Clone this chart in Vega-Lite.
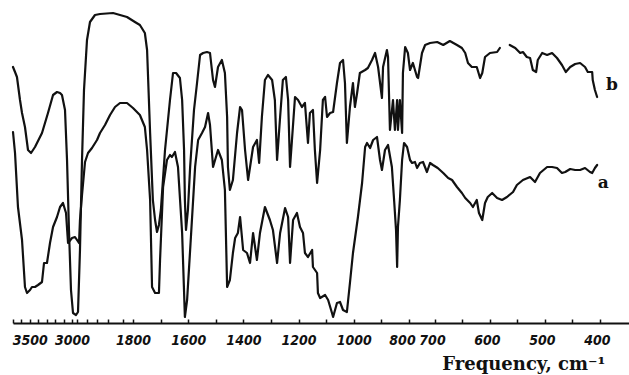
{
  "$schema": "https://vega.github.io/schema/vega-lite/v6.json",
  "autosize": {"type": "none"},
  "padding": {"left": 12, "top": 0, "right": 0, "bottom": 52},
  "width": 617,
  "height": 323,
  "background": "white",
  "config": {"view": {"stroke": null}},
  "datasets": {
    "spectra": [
      {"seg":"b1","wn":3700,"T":256},{"seg":"b1","wn":3676,"T":251},{"seg":"b1","wn":3653,"T":246},{"seg":"b1","wn":3617,"T":223},{"seg":"b1","wn":3593,"T":210},{"seg":"b1","wn":3558,"T":196},{"seg":"b1","wn":3522,"T":173},{"seg":"b1","wn":3486,"T":170},{"seg":"b1","wn":3439,"T":176},{"seg":"b1","wn":3356,"T":190},{"seg":"b1","wn":3285,"T":210},{"seg":"b1","wn":3225,"T":228},{"seg":"b1","wn":3178,"T":231},{"seg":"b1","wn":3142,"T":230},{"seg":"b1","wn":3119,"T":228},{"seg":"b1","wn":3083,"T":213},{"seg":"b1","wn":3059,"T":163},{"seg":"b1","wn":3036,"T":93},{"seg":"b1","wn":3012,"T":33},{"seg":"b1","wn":2980,"T":10},{"seg":"b1","wn":2921,"T":8},{"seg":"b1","wn":2882,"T":11},{"seg":"b1","wn":2843,"T":73},{"seg":"b1","wn":2803,"T":163},{"seg":"b1","wn":2764,"T":233},{"seg":"b1","wn":2705,"T":283},{"seg":"b1","wn":2646,"T":301},{"seg":"b1","wn":2548,"T":308},{"seg":"b1","wn":2449,"T":309},{"seg":"b1","wn":2193,"T":310},{"seg":"b1","wn":1918,"T":306},{"seg":"b1","wn":1793,"T":301},{"seg":"b1","wn":1775,"T":298},{"seg":"b1","wn":1757,"T":290},{"seg":"b1","wn":1749,"T":273},{"seg":"b1","wn":1738,"T":190},{"seg":"b1","wn":1728,"T":123},{"seg":"b1","wn":1720,"T":103},{"seg":"b1","wn":1713,"T":91},{"seg":"b1","wn":1706,"T":98},{"seg":"b1","wn":1699,"T":113},{"seg":"b1","wn":1684,"T":173},{"seg":"b1","wn":1666,"T":223},{"seg":"b1","wn":1655,"T":250},{"seg":"b1","wn":1644,"T":250},{"seg":"b1","wn":1630,"T":245},{"seg":"b1","wn":1622,"T":223},{"seg":"b1","wn":1615,"T":173},{"seg":"b1","wn":1612,"T":123},{"seg":"b1","wn":1608,"T":93},{"seg":"b1","wn":1601,"T":113},{"seg":"b1","wn":1593,"T":156},{"seg":"b1","wn":1579,"T":213},{"seg":"b1","wn":1568,"T":240},{"seg":"b1","wn":1557,"T":268},{"seg":"b1","wn":1546,"T":270},{"seg":"b1","wn":1532,"T":271},{"seg":"b1","wn":1521,"T":270},{"seg":"b1","wn":1510,"T":243},{"seg":"b1","wn":1503,"T":236},{"seg":"b1","wn":1492,"T":256},{"seg":"b1","wn":1478,"T":263},{"seg":"b1","wn":1467,"T":250},{"seg":"b1","wn":1459,"T":206},{"seg":"b1","wn":1456,"T":156},{"seg":"b1","wn":1449,"T":133},{"seg":"b1","wn":1438,"T":143},{"seg":"b1","wn":1423,"T":190},{"seg":"b1","wn":1412,"T":216},{"seg":"b1","wn":1405,"T":213},{"seg":"b1","wn":1394,"T":173},{"seg":"b1","wn":1383,"T":143},{"seg":"b1","wn":1365,"T":176},{"seg":"b1","wn":1351,"T":183},{"seg":"b1","wn":1343,"T":160},{"seg":"b1","wn":1333,"T":206},{"seg":"b1","wn":1322,"T":243},{"seg":"b1","wn":1311,"T":248},{"seg":"b1","wn":1296,"T":243},{"seg":"b1","wn":1286,"T":223},{"seg":"b1","wn":1278,"T":163},{"seg":"b1","wn":1267,"T":206},{"seg":"b1","wn":1257,"T":243},{"seg":"b1","wn":1246,"T":246},{"seg":"b1","wn":1238,"T":223},{"seg":"b1","wn":1231,"T":156},{"seg":"b1","wn":1224,"T":183},{"seg":"b1","wn":1213,"T":226},{"seg":"b1","wn":1202,"T":223},{"seg":"b1","wn":1188,"T":216},{"seg":"b1","wn":1177,"T":220},{"seg":"b1","wn":1166,"T":180},{"seg":"b1","wn":1159,"T":210},{"seg":"b1","wn":1148,"T":213},{"seg":"b1","wn":1141,"T":173},{"seg":"b1","wn":1133,"T":140},{"seg":"b1","wn":1122,"T":173},{"seg":"b1","wn":1112,"T":223},{"seg":"b1","wn":1104,"T":226},{"seg":"b1","wn":1097,"T":206},{"seg":"b1","wn":1086,"T":210},{"seg":"b1","wn":1075,"T":211},{"seg":"b1","wn":1061,"T":240},{"seg":"b1","wn":1050,"T":260},{"seg":"b1","wn":1039,"T":263},{"seg":"b1","wn":1032,"T":240},{"seg":"b1","wn":1025,"T":180},{"seg":"b1","wn":1014,"T":216},{"seg":"b1","wn":1003,"T":240},{"seg":"b1","wn":996,"T":216},{"seg":"b1","wn":988,"T":230},{"seg":"b1","wn":978,"T":250},{"seg":"b1","wn":959,"T":253},{"seg":"b1","wn":949,"T":255},{"seg":"b1","wn":934,"T":263},{"seg":"b1","wn":923,"T":270},{"seg":"b1","wn":912,"T":256},{"seg":"b1","wn":898,"T":225},{"seg":"b1","wn":894,"T":256},{"seg":"b1","wn":880,"T":273},{"seg":"b1","wn":876,"T":266},{"seg":"b1","wn":869,"T":193},{"seg":"b1","wn":858,"T":223},{"seg":"b1","wn":851,"T":193},{"seg":"b1","wn":843,"T":223},{"seg":"b1","wn":840,"T":193},{"seg":"b1","wn":833,"T":223},{"seg":"b1","wn":825,"T":190},{"seg":"b1","wn":822,"T":250},{"seg":"b1","wn":814,"T":276},{"seg":"b1","wn":804,"T":270},{"seg":"b1","wn":796,"T":253},{"seg":"b1","wn":785,"T":260},{"seg":"b1","wn":769,"T":246},{"seg":"b1","wn":765,"T":245},{"seg":"b1","wn":750,"T":270},{"seg":"b1","wn":738,"T":278},{"seg":"b1","wn":719,"T":280},{"seg":"b1","wn":696,"T":281},{"seg":"b1","wn":685,"T":278},{"seg":"b1","wn":673,"T":282},{"seg":"b1","wn":660,"T":278},{"seg":"b1","wn":651,"T":275},{"seg":"b1","wn":645,"T":270},{"seg":"b1","wn":640,"T":260},{"seg":"b1","wn":633,"T":256},{"seg":"b1","wn":624,"T":256},{"seg":"b1","wn":618,"T":245},{"seg":"b1","wn":614,"T":250},{"seg":"b1","wn":609,"T":266},{"seg":"b1","wn":600,"T":270},{"seg":"b1","wn":587,"T":271},{"seg":"b1","wn":582,"T":275},
      {"seg":"b2","wn":564,"T":278},{"seg":"b2","wn":554,"T":275},{"seg":"b2","wn":545,"T":270},{"seg":"b2","wn":540,"T":271},{"seg":"b2","wn":533,"T":266},{"seg":"b2","wn":527,"T":265},{"seg":"b2","wn":522,"T":253},{"seg":"b2","wn":516,"T":251},{"seg":"b2","wn":513,"T":263},{"seg":"b2","wn":505,"T":270},{"seg":"b2","wn":496,"T":268},{"seg":"b2","wn":487,"T":270},{"seg":"b2","wn":478,"T":265},{"seg":"b2","wn":469,"T":258},{"seg":"b2","wn":462,"T":251},{"seg":"b2","wn":454,"T":256},{"seg":"b2","wn":445,"T":259},{"seg":"b2","wn":436,"T":260},{"seg":"b2","wn":427,"T":256},{"seg":"b2","wn":422,"T":251},{"seg":"b2","wn":414,"T":251},{"seg":"b2","wn":413,"T":243},{"seg":"b2","wn":409,"T":233},{"seg":"b2","wn":405,"T":226},
      {"seg":"a","wn":3700,"T":191},{"seg":"a","wn":3676,"T":170},{"seg":"a","wn":3641,"T":116},{"seg":"a","wn":3593,"T":83},{"seg":"a","wn":3558,"T":36},{"seg":"a","wn":3534,"T":30},{"seg":"a","wn":3498,"T":33},{"seg":"a","wn":3475,"T":36},{"seg":"a","wn":3439,"T":36},{"seg":"a","wn":3403,"T":38},{"seg":"a","wn":3356,"T":41},{"seg":"a","wn":3332,"T":60},{"seg":"a","wn":3297,"T":60},{"seg":"a","wn":3261,"T":80},{"seg":"a","wn":3225,"T":96},{"seg":"a","wn":3178,"T":106},{"seg":"a","wn":3142,"T":116},{"seg":"a","wn":3107,"T":120},{"seg":"a","wn":3071,"T":110},{"seg":"a","wn":3047,"T":80},{"seg":"a","wn":3000,"T":85},{"seg":"a","wn":2941,"T":86},{"seg":"a","wn":2862,"T":80},{"seg":"a","wn":2843,"T":103},{"seg":"a","wn":2803,"T":128},{"seg":"a","wn":2744,"T":161},{"seg":"a","wn":2685,"T":170},{"seg":"a","wn":2607,"T":175},{"seg":"a","wn":2508,"T":183},{"seg":"a","wn":2449,"T":190},{"seg":"a","wn":2351,"T":198},{"seg":"a","wn":2252,"T":208},{"seg":"a","wn":2154,"T":216},{"seg":"a","wn":2056,"T":220},{"seg":"a","wn":1918,"T":220},{"seg":"a","wn":1800,"T":215},{"seg":"a","wn":1775,"T":208},{"seg":"a","wn":1757,"T":196},{"seg":"a","wn":1749,"T":173},{"seg":"a","wn":1738,"T":123},{"seg":"a","wn":1731,"T":36},{"seg":"a","wn":1720,"T":30},{"seg":"a","wn":1706,"T":30},{"seg":"a","wn":1702,"T":63},{"seg":"a","wn":1691,"T":136},{"seg":"a","wn":1677,"T":163},{"seg":"a","wn":1666,"T":168},{"seg":"a","wn":1659,"T":166},{"seg":"a","wn":1648,"T":171},{"seg":"a","wn":1637,"T":156},{"seg":"a","wn":1622,"T":90},{"seg":"a","wn":1612,"T":6},{"seg":"a","wn":1604,"T":23},{"seg":"a","wn":1593,"T":73},{"seg":"a","wn":1575,"T":156},{"seg":"a","wn":1564,"T":183},{"seg":"a","wn":1550,"T":190},{"seg":"a","wn":1539,"T":196},{"seg":"a","wn":1528,"T":210},{"seg":"a","wn":1521,"T":198},{"seg":"a","wn":1510,"T":156},{"seg":"a","wn":1492,"T":173},{"seg":"a","wn":1478,"T":163},{"seg":"a","wn":1467,"T":133},{"seg":"a","wn":1459,"T":36},{"seg":"a","wn":1449,"T":43},{"seg":"a","wn":1438,"T":70},{"seg":"a","wn":1430,"T":85},{"seg":"a","wn":1420,"T":90},{"seg":"a","wn":1412,"T":106},{"seg":"a","wn":1401,"T":73},{"seg":"a","wn":1387,"T":70},{"seg":"a","wn":1376,"T":60},{"seg":"a","wn":1365,"T":90},{"seg":"a","wn":1351,"T":63},{"seg":"a","wn":1340,"T":90},{"seg":"a","wn":1322,"T":116},{"seg":"a","wn":1304,"T":103},{"seg":"a","wn":1293,"T":93},{"seg":"a","wn":1278,"T":60},{"seg":"a","wn":1267,"T":90},{"seg":"a","wn":1249,"T":115},{"seg":"a","wn":1238,"T":106},{"seg":"a","wn":1231,"T":60},{"seg":"a","wn":1220,"T":103},{"seg":"a","wn":1206,"T":110},{"seg":"a","wn":1195,"T":96},{"seg":"a","wn":1184,"T":90},{"seg":"a","wn":1177,"T":70},{"seg":"a","wn":1166,"T":66},{"seg":"a","wn":1151,"T":73},{"seg":"a","wn":1148,"T":56},{"seg":"a","wn":1133,"T":50},{"seg":"a","wn":1130,"T":30},{"seg":"a","wn":1122,"T":25},{"seg":"a","wn":1104,"T":28},{"seg":"a","wn":1093,"T":23},{"seg":"a","wn":1079,"T":10},{"seg":"a","wn":1075,"T":6},{"seg":"a","wn":1061,"T":20},{"seg":"a","wn":1050,"T":21},{"seg":"a","wn":1039,"T":13},{"seg":"a","wn":1025,"T":11},{"seg":"a","wn":1014,"T":40},{"seg":"a","wn":1003,"T":70},{"seg":"a","wn":985,"T":106},{"seg":"a","wn":970,"T":140},{"seg":"a","wn":959,"T":176},{"seg":"a","wn":952,"T":180},{"seg":"a","wn":941,"T":175},{"seg":"a","wn":930,"T":183},{"seg":"a","wn":916,"T":186},{"seg":"a","wn":905,"T":163},{"seg":"a","wn":898,"T":153},{"seg":"a","wn":887,"T":173},{"seg":"a","wn":876,"T":178},{"seg":"a","wn":862,"T":156},{"seg":"a","wn":854,"T":123},{"seg":"a","wn":847,"T":93},{"seg":"a","wn":843,"T":56},{"seg":"a","wn":840,"T":96},{"seg":"a","wn":833,"T":123},{"seg":"a","wn":825,"T":163},{"seg":"a","wn":818,"T":180},{"seg":"a","wn":807,"T":176},{"seg":"a","wn":796,"T":163},{"seg":"a","wn":788,"T":160},{"seg":"a","wn":777,"T":161},{"seg":"a","wn":769,"T":155},{"seg":"a","wn":758,"T":160},{"seg":"a","wn":746,"T":161},{"seg":"a","wn":731,"T":151},{"seg":"a","wn":719,"T":160},{"seg":"a","wn":708,"T":158},{"seg":"a","wn":695,"T":155},{"seg":"a","wn":685,"T":150},{"seg":"a","wn":676,"T":145},{"seg":"a","wn":669,"T":143},{"seg":"a","wn":660,"T":136},{"seg":"a","wn":651,"T":130},{"seg":"a","wn":645,"T":125},{"seg":"a","wn":636,"T":120},{"seg":"a","wn":631,"T":116},{"seg":"a","wn":624,"T":123},{"seg":"a","wn":620,"T":110},{"seg":"a","wn":614,"T":103},{"seg":"a","wn":609,"T":120},{"seg":"a","wn":604,"T":126},{"seg":"a","wn":596,"T":130},{"seg":"a","wn":587,"T":125},{"seg":"a","wn":578,"T":123},{"seg":"a","wn":569,"T":126},{"seg":"a","wn":558,"T":131},{"seg":"a","wn":551,"T":138},{"seg":"a","wn":540,"T":143},{"seg":"a","wn":527,"T":146},{"seg":"a","wn":518,"T":141},{"seg":"a","wn":509,"T":150},{"seg":"a","wn":496,"T":156},{"seg":"a","wn":487,"T":156},{"seg":"a","wn":478,"T":155},{"seg":"a","wn":469,"T":150},{"seg":"a","wn":463,"T":151},{"seg":"a","wn":454,"T":154},{"seg":"a","wn":445,"T":153},{"seg":"a","wn":436,"T":153},{"seg":"a","wn":427,"T":155},{"seg":"a","wn":418,"T":151},{"seg":"a","wn":414,"T":150},{"seg":"a","wn":409,"T":155},{"seg":"a","wn":405,"T":158}
    ],
    "labels": [
      {"name":"b","wn":378,"T":238},
      {"name":"a","wn":394,"T":140}
    ]
  },
  "layer": [
    {
      "data": {"name": "spectra"},
      "mark": {"type": "line", "color": "#111111", "strokeWidth": 2.2, "strokeJoin": "round", "strokeCap": "round"},
      "encoding": {
        "x": {
          "field": "wn", "type": "quantitative",
          "scale": {"domain": [3700, 3000, 1800, 800, 700, 347], "range": [1, 60, 121, 397, 423, 617], "zero": false, "nice": false},
          "axis": {
            "values": [3700,3600,3500,3400,3300,3200,3100,3000,2900,2700,2500,2300,2000,1800,1700,1600,1500,1400,1300,1200,1100,1000,900,800,700,650,600,550,500,450,400],
            "tickCount": 200,
            "labelExpr": "indexof([3500,3000,1800,1600,1400,1200,1000,800,700,600,500,400], datum.value) >= 0 ? format(datum.value, 'd') : ''",
            "labelOverlap": false,
            "labelFlush": false,
            "labelOffset": {"condition": [{"test": "datum.value == 800", "value": -7}, {"test": "datum.value < 800", "value": -3}], "value": 0},
            "grid": false,
            "domainColor": "#111111",
            "domainWidth": 2,
            "tickColor": "#111111",
            "tickWidth": 1.5,
            "tickSize": -4,
            "labelPadding": 14,
            "labelFont": "DejaVu Sans Condensed",
            "labelFontStyle": "italic",
            "labelFontWeight": "bold",
            "labelFontSize": 14,
            "labelColor": "#111111",
            "title": "Frequency, cm⁻¹",
            "titleFont": "DejaVu Serif",
            "titleFontWeight": "bold",
            "titleFontSize": 18,
            "titleColor": "#111111",
            "titleAlign": "right",
            "titleAnchor": "end",
            "titleBaseline": "alphabetic",
            "titleX": 593,
            "titleY": 46
          }
        },
        "y": {"field": "T", "type": "quantitative", "scale": {"domain": [0, 323], "zero": false, "nice": false}, "axis": null},
        "detail": {"field": "seg"}
      }
    },
    {
      "data": {"name": "labels"},
      "mark": {"type": "text", "font": "DejaVu Serif", "fontWeight": "bold", "fontSize": 17, "color": "#111111", "baseline": "middle", "align": "center"},
      "encoding": {
        "x": {"field": "wn", "type": "quantitative"},
        "y": {"field": "T", "type": "quantitative"},
        "text": {"field": "name"}
      }
    }
  ]
}
